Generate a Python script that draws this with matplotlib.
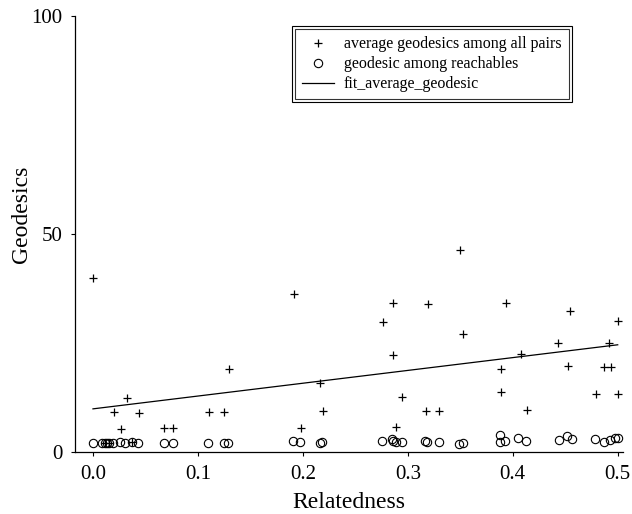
import matplotlib

matplotlib.use("Agg")
import matplotlib.pyplot as plt
from matplotlib.patches import Rectangle

plt.rcParams["font.family"] = ["Liberation Serif", "DejaVu Serif"]

# average geodesic length among all pairs, per relatedness value
avg_rel = [0.0, 0.011, 0.015, 0.0205, 0.027, 0.032, 0.037, 0.044, 0.068, 0.076,
           0.111, 0.125, 0.130, 0.192, 0.198, 0.2165, 0.219, 0.276, 0.286, 0.286,
           0.289, 0.294, 0.317, 0.319, 0.330, 0.350, 0.353, 0.389, 0.389, 0.394,
           0.408, 0.414, 0.443, 0.453, 0.455, 0.479, 0.487, 0.492, 0.494, 0.500,
           0.500]
avg_geo = [40.0, 2.0, 2.0, 9.1, 5.2, 12.5, 2.2, 8.9, 5.5, 5.5,
           9.1, 9.1, 19.1, 36.3, 5.6, 15.8, 9.3, 29.9, 34.3, 22.3,
           5.8, 12.7, 9.3, 34.0, 9.3, 46.3, 27.1, 19.1, 13.8, 34.3,
           22.6, 9.7, 25.1, 19.8, 32.3, 13.4, 19.6, 24.9, 19.6, 30.0,
           13.4]

# geodesic length counted only among reachable pairs
reach_rel = [0.0, 0.0085, 0.011, 0.013, 0.0155, 0.0195, 0.026, 0.031, 0.037, 0.043,
             0.068, 0.076, 0.110, 0.1246, 0.129, 0.191, 0.197, 0.216, 0.218, 0.275,
             0.285, 0.286, 0.289, 0.294, 0.316, 0.318, 0.330, 0.349, 0.353, 0.388,
             0.388, 0.393, 0.405, 0.413, 0.444, 0.452, 0.456, 0.478, 0.487, 0.493,
             0.497, 0.500]
reach_geo = [2.0, 2.0, 2.1, 2.0, 2.1, 2.0, 2.2, 2.0, 2.2, 2.0,
             2.0, 2.0, 2.0, 2.0, 2.1, 2.6, 2.2, 2.1, 2.3, 2.5,
             2.9, 2.5, 2.2, 2.2, 2.5, 2.2, 2.2, 1.8, 2.1, 3.9,
             2.4, 2.5, 3.3, 2.6, 2.8, 3.6, 3.0, 3.0, 2.4, 2.7,
             3.1, 3.3]

# linear fit of the average geodesic, evaluated at the ends of the range
fit_rel = [0.0, 0.5]
fit_geo = [9.9, 24.6]

x_ticks = [0.0, 0.1, 0.2, 0.3, 0.4, 0.5]
y_ticks = [0, 50, 100]

fig = plt.figure(figsize=(6.32, 5.14), dpi=100)
ax = fig.add_axes([0.1187, 0.1206, 0.867, 0.848])

ax.plot(avg_rel, avg_geo, linestyle="none", marker="+", markersize=6,
        markeredgewidth=0.9, color="black", label="average geodesics among all pairs")
ax.plot(reach_rel, reach_geo, linestyle="none", marker="o", markersize=6,
        markerfacecolor="none", markeredgewidth=0.8, color="black",
        label="geodesic among reachables")
ax.plot(fit_rel, fit_geo, color="black", linewidth=0.9, label="fit_average_geodesic")

ax.set_xlim(-0.0171, 0.505)
ax.set_ylim(0, 100)
ax.set_xticks(x_ticks)
ax.set_xticklabels([f"{t:.1f}" for t in x_ticks])
ax.set_yticks(y_ticks)
ax.tick_params(direction="out", length=3, width=0.8, labelsize=15, pad=6)

for side in ("top", "right"):
    ax.spines[side].set_visible(False)
for side in ("left", "bottom"):
    ax.spines[side].set_linewidth(0.9)

ax.set_xlabel("Relatedness", fontsize=17, labelpad=6)
ax.set_ylabel("Geodesics", fontsize=17)
ax.yaxis.set_label_coords(-0.078, 0.545)

leg = ax.legend(loc="upper left", bbox_to_anchor=(295 / 632, 1 - 29 / 514),
                bbox_transform=fig.transFigure, fontsize=11.5, frameon=True,
                fancybox=False, edgecolor="black", borderpad=0.45,
                handlelength=2.0, handletextpad=0.6, labelspacing=0.25,
                borderaxespad=0)
leg.get_frame().set_linewidth(0.8)

# second, outer border around the legend box
fig.canvas.draw()
box = leg.get_frame().get_window_extent()
gap = 3
outer = Rectangle((box.x0 - gap, box.y0 - gap), box.width + 2 * gap,
                  box.height + 2 * gap, fill=False, edgecolor="black",
                  linewidth=0.8, transform=None)
fig.add_artist(outer)

fig.savefig("out.png", dpi=100)
